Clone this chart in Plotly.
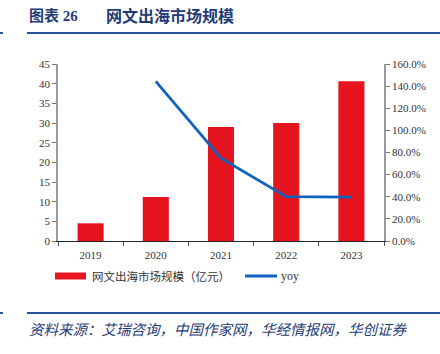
import plotly.graph_objects as go

years = ["2019", "2020", "2021", "2022", "2023"]
market_size = [4.5, 11.2, 29.0, 30.0, 40.6]
yoy_years = ["2020", "2021", "2022", "2023"]
yoy = [1.443, 0.749, 0.401, 0.397]

W, H = 440, 354
L, R, T, B = 58, 384, 64, 241
pw, ph = R - L, B - T

def px(x):
    return (x - L) / pw

def py(y):
    return (B - y) / ph

RED = "#E6141E"
BLUE = "#0F63BE"
NAVY = "#1F3C78"
LINE = "#2B5597"

fig = go.Figure()
fig.add_trace(go.Bar(x=years, y=market_size, marker=dict(color=RED, line=dict(width=0)),
                     width=0.4, name="网文出海市场规模（亿元）", yaxis="y"))
fig.add_trace(go.Scatter(x=yoy_years, y=yoy, mode="lines", line=dict(color=BLUE, width=2.8),
                         name="yoy", yaxis="y2"))

tickfont = dict(family="Liberation Serif", size=11, color="#333333")

fig.update_layout(
    width=W, height=H,
    margin=dict(l=L, r=W - R, t=T, b=H - B),
    paper_bgcolor="white", plot_bgcolor="white",
    showlegend=False,
    bargap=0.6,
    xaxis=dict(type="category", showgrid=False, showline=True, linecolor="#222222", linewidth=1,
               ticks="outside", tickson="boundaries", ticklen=4, tickcolor="#555555",
               tickfont=tickfont, range=[-0.5, 4.5], ticklabelstandoff=4),
    yaxis=dict(range=[0, 45], dtick=5, showgrid=False, showline=True, linecolor="#999999",
               linewidth=1.5, ticks="outside", ticklen=4, tickcolor="#777777", tickfont=tickfont,
               zeroline=False),
    yaxis2=dict(range=[0, 1.6], dtick=0.2, tickformat=".1%", overlaying="y", side="right",
                showgrid=False, showline=True, linecolor="#999999", linewidth=1.5,
                ticks="outside", ticklen=4, tickcolor="#777777", tickfont=tickfont, zeroline=False),
)

shapes = []
# header / footer rules
for yy in (33, 313):
    shapes.append(dict(type="line", xref="paper", yref="paper", x0=px(27), x1=px(440),
                       y0=py(yy), y1=py(yy), line=dict(color=LINE, width=2)))
    shapes.append(dict(type="line", xref="paper", yref="paper", x0=px(0), x1=px(3),
                       y0=py(yy), y1=py(yy), line=dict(color=LINE, width=2)))
# legend swatches
shapes.append(dict(type="rect", xref="paper", yref="paper", x0=px(55), x1=px(86),
                   y0=py(279.5), y1=py(272.5), fillcolor=RED, line=dict(width=0)))
shapes.append(dict(type="line", xref="paper", yref="paper", x0=px(245), x1=px(277),
                   y0=py(276), y1=py(276), line=dict(color=BLUE, width=3)))
fig.update_layout(shapes=shapes)

cjk = "Noto Sans CJK SC"
annotations = [
    dict(text="<b>图表 26</b>", x=px(27), y=py(15), xref="paper", yref="paper",
         xanchor="left", yanchor="middle", showarrow=False,
         font=dict(family="Liberation Serif, " + cjk, size=15, color=NAVY)),
    dict(text="<b>网文出海市场规模</b>", x=px(104), y=py(15), xref="paper", yref="paper",
         xanchor="left", yanchor="middle", showarrow=False,
         font=dict(family=cjk, size=16, color=NAVY)),
    dict(text="网文出海市场规模（亿元）", x=px(90), y=py(276), xref="paper", yref="paper",
         xanchor="left", yanchor="middle", showarrow=False,
         font=dict(family=cjk, size=11.5, color="#333333")),
    dict(text="yoy", x=px(279), y=py(276), xref="paper", yref="paper",
         xanchor="left", yanchor="middle", showarrow=False,
         font=dict(family="Liberation Serif", size=12, color="#333333")),
    dict(text="<i>资料来源：艾瑞咨询，中国作家网，华经情报网，华创证券</i>", x=px(27), y=py(328),
         xref="paper", yref="paper", xanchor="left", yanchor="middle", showarrow=False,
         font=dict(family=cjk, size=14.5, color=NAVY)),
]
fig.update_layout(annotations=annotations)

fig.write_html("out.html")
